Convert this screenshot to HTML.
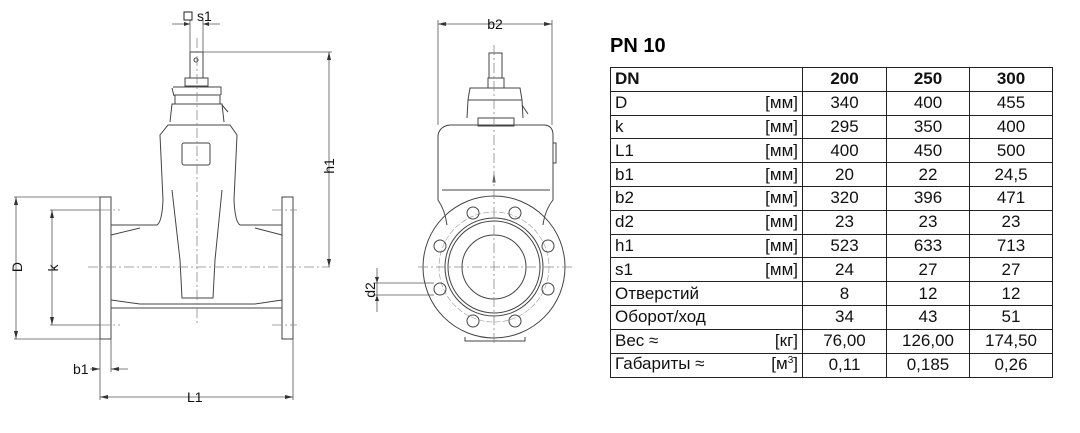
<!DOCTYPE html>
<html><head><meta charset="utf-8"><style>
body{margin:0;width:1080px;height:433px;background:#fff;position:relative;overflow:hidden;font-family:"Liberation Sans",sans-serif;}
svg{position:absolute;left:0;top:0}
.t{position:absolute;left:610px;top:67px;width:442px;table-layout:fixed;border-collapse:collapse;font-size:17px;color:#111}
.t tr{height:23.8px}
.t td{border:1.5px solid #222;padding:0 4px;line-height:20px;overflow:hidden;white-space:nowrap}
.t td.n{text-align:center}
.u{float:right}
h1{position:absolute;left:610px;top:35px;margin:0;font-size:20px;font-weight:bold}
</style></head><body>
<svg width="1080" height="433" viewBox="0 0 1080 433" fill="none" stroke="#333" stroke-width="1" font-family="Liberation Sans" >
<g stroke="#444">
<rect x="100" y="197" width="11" height="142"/>
<rect x="282" y="197" width="11" height="142"/>
<path d="M111 225 L157 225 Q162 222 163 200 L160 135 L168 125 L230 125 L237 135 L234 200 Q235 222 240 225 L282 225"/>
<path d="M111 235 L140 228 M282 235 L255 228"/>
<path d="M111 308 L282 308 M111 300 L140 304 L255 304 L282 300"/>
<path d="M172 190 L180 260 L182 298 L213 298 L215 260 L222 190"/>
<rect x="182" y="143" width="28" height="22" rx="2"/>
<path d="M170 122 L172 104 L222 104 L224 122 M175 104 L175 95 L220 95 L220 104 M172 88 L174 96 M173 87 L221 87 L221 95"/>
<rect x="185" y="78" width="23" height="8"/>
<rect x="190" y="52" width="13" height="26"/>
<circle cx="196" cy="60" r="2"/>
<path d="M222 105 L228 112" />
</g>
<g stroke="#888" stroke-width="0.8" stroke-dasharray="10 3 2 3">
<line x1="197" y1="38" x2="197" y2="325"/>
<line x1="88" y1="267" x2="330" y2="267"/>
<line x1="100" y1="210" x2="120" y2="210"/><line x1="272" y1="210" x2="297" y2="210"/>
<line x1="100" y1="325" x2="120" y2="325"/><line x1="272" y1="325" x2="297" y2="325"/>
</g>
<g stroke="#555" stroke-width="0.8">
<line x1="203" y1="52" x2="332" y2="52"/>
<line x1="329" y1="52" x2="329" y2="267"/>
<line x1="14" y1="197" x2="100" y2="197"/><line x1="14" y1="339" x2="100" y2="339"/>
<line x1="16" y1="197" x2="16" y2="339"/>
<line x1="50" y1="210" x2="100" y2="210"/><line x1="50" y1="325" x2="100" y2="325"/>
<line x1="52" y1="210" x2="52" y2="325"/>
<line x1="100" y1="339" x2="100" y2="400"/><line x1="111" y1="339" x2="111" y2="372"/><line x1="293" y1="339" x2="293" y2="400"/>
<line x1="90" y1="369" x2="100" y2="369"/><line x1="111" y1="369" x2="128" y2="369"/>
<line x1="100" y1="397" x2="293" y2="397"/>
<line x1="172" y1="24" x2="190" y2="24"/><line x1="203" y1="24" x2="220" y2="24"/>
<line x1="190" y1="20" x2="190" y2="52"/><line x1="203" y1="20" x2="203" y2="52"/>
</g>
<g fill="#333" stroke="none">
<path d="M329 52 l-2 8 h4z M329 267 l-2 -8 h4z M16 197 l-2 8 h4z M16 339 l-2 -8 h4z M52 210 l-2 8 h4z M52 325 l-2 -8 h4z M100 397 l8 -2 v4z M293 397 l-8 -2 v4z M100 369 l-8 -2 v4z M111 369 l8 -2 v4z M190 24 l-6 -2 v4z M203 24 l6 -2 v4z"/>
</g>
<g fill="#111" stroke="none" font-size="14">
<text x="334" y="166" transform="rotate(-90 334 166)" text-anchor="middle">h1</text>
<text x="22" y="267" transform="rotate(-90 22 267)" text-anchor="middle">D</text>
<text x="58" y="268" transform="rotate(-90 58 268)" text-anchor="middle">k</text>
<text x="73" y="374">b1</text>
<text x="187" y="402">L1</text>
<text x="197" y="21">s1</text>
</g>
<rect x="184" y="12" width="8" height="8" stroke="#222"/>
<g stroke="#444">
<path d="M438 200 L438 135 Q440 126 450 125 L545 125 Q553 126 553 135 L553 200 Q545 210 543 225 M438 200 Q445 210 447 225"/>
<rect x="553" y="143" width="3" height="20"/>
<line x1="442" y1="190" x2="550" y2="190"/>
<rect x="478" y="118" width="36" height="8"/>
<path d="M467 118 L468 100 L522 100 L523 118"/>
<path d="M468 100 L470 88 L520 88 L522 100"/>
<rect x="488" y="78" width="16" height="10"/>
<rect x="489" y="53" width="13" height="25"/>
<path d="M522 105 L528 114"/>
<circle cx="494" cy="267" r="71"/>
<circle cx="494" cy="267" r="49"/>
<circle cx="494" cy="267" r="46"/>
<circle cx="494" cy="267" r="32"/>
<circle cx="494" cy="267" r="55" stroke="#999" stroke-width="0.6" stroke-dasharray="6 2"/>
<g>
<circle cx="473" cy="213" r="6"/><circle cx="515" cy="213" r="6"/>
<circle cx="440" cy="246" r="6"/><circle cx="548" cy="246" r="6"/>
<circle cx="440" cy="289" r="6"/><circle cx="548" cy="289" r="6"/>
<circle cx="473" cy="321" r="6"/><circle cx="515" cy="321" r="6"/>
</g>
<path d="M465 337 L465 341 L525 341 L525 337"/>
<path d="M493 182 L494 175 L495 182 Z"/>
</g>
<g stroke="#888" stroke-width="0.8" stroke-dasharray="10 3 2 3">
<line x1="494" y1="45" x2="494" y2="345"/>
<line x1="418" y1="267" x2="572" y2="267"/>
</g>
<g stroke="#555" stroke-width="0.8">
<line x1="438" y1="24" x2="552" y2="24"/>
<line x1="438" y1="20" x2="438" y2="125"/><line x1="552" y1="20" x2="552" y2="125"/>
<line x1="373" y1="283" x2="434" y2="283"/><line x1="373" y1="295" x2="434" y2="295"/>
<line x1="377" y1="268" x2="377" y2="312"/>
</g>
<g fill="#333" stroke="none">
<path d="M438 24 l8 -2 v4z M552 24 l-8 -2 v4z M377 283 l-2 -6 h4z M377 295 l-2 6 h4z"/>
</g>
<g fill="#111" stroke="none" font-size="14">
<text x="495" y="29" text-anchor="middle">b2</text>
<text x="375" y="290" transform="rotate(-90 375 290)" text-anchor="middle">d2</text>
</g>
</svg>
<h1>PN 10</h1>
<table class="t">
<colgroup><col style="width:192px"><col style="width:84px"><col style="width:83px"><col style="width:83px"></colgroup>
<tr><td><b>DN</b></td><td class="n"><b>200</b></td><td class="n"><b>250</b></td><td class="n"><b>300</b></td></tr>
<tr><td>D<span class="u">[мм]</span></td><td class="n">340</td><td class="n">400</td><td class="n">455</td></tr>
<tr><td>k<span class="u">[мм]</span></td><td class="n">295</td><td class="n">350</td><td class="n">400</td></tr>
<tr><td>L1<span class="u">[мм]</span></td><td class="n">400</td><td class="n">450</td><td class="n">500</td></tr>
<tr><td>b1<span class="u">[мм]</span></td><td class="n">20</td><td class="n">22</td><td class="n">24,5</td></tr>
<tr><td>b2<span class="u">[мм]</span></td><td class="n">320</td><td class="n">396</td><td class="n">471</td></tr>
<tr><td>d2<span class="u">[мм]</span></td><td class="n">23</td><td class="n">23</td><td class="n">23</td></tr>
<tr><td>h1<span class="u">[мм]</span></td><td class="n">523</td><td class="n">633</td><td class="n">713</td></tr>
<tr><td>s1<span class="u">[мм]</span></td><td class="n">24</td><td class="n">27</td><td class="n">27</td></tr>
<tr><td>Отверстий</td><td class="n">8</td><td class="n">12</td><td class="n">12</td></tr>
<tr><td>Оборот/ход</td><td class="n">34</td><td class="n">43</td><td class="n">51</td></tr>
<tr><td>Вес ≈<span class="u">[кг]</span></td><td class="n">76,00</td><td class="n">126,00</td><td class="n">174,50</td></tr>
<tr><td>Габариты ≈<span class="u">[м<span style="font-size:10px;position:relative;top:-6px">3</span>]</span></td><td class="n">0,11</td><td class="n">0,185</td><td class="n">0,26</td></tr>
</table>
</body></html>
